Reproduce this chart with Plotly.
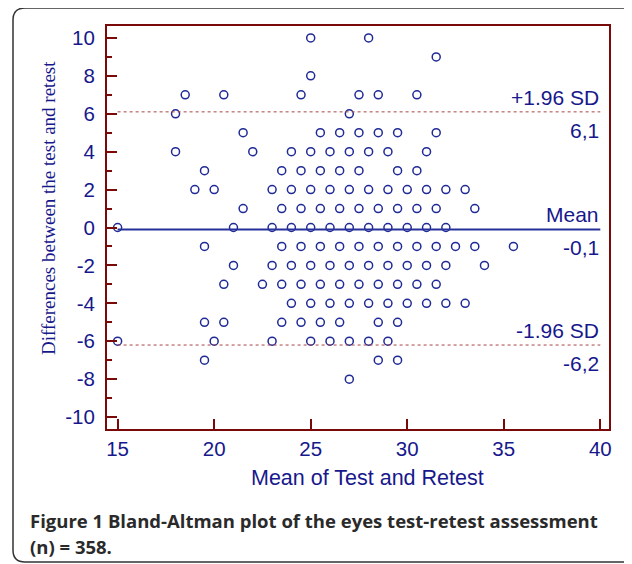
import plotly.graph_objects as go

# ---------------- data ----------------
rows = {
    10: [25, 28],
    9: [31.5],
    8: [25],
    7: [18.5, 20.5, 24.5, 27.5, 28.5, 30.5],
    6: [18, 27],
    5: [21.5, 25.5, 26.5, 27.5, 28.5, 29.5, 31.5],
    4: [18, 22, 24, 25, 26, 27, 28, 29, 31],
    3: [19.5, 23.5, 24.5, 25.5, 26.5, 27.5, 29.5, 30.5],
    2: [19, 20, 23, 24, 25, 26, 27, 28, 29, 30, 31, 32, 33],
    1: [21.5, 23.5, 24.5, 25.5, 26.5, 27.5, 28.5, 29.5, 30.5, 31.5, 33.5],
    0: [15, 21, 23, 24, 25, 26, 27, 28, 29, 30, 31, 32],
    -1: [19.5, 23.5, 24.5, 25.5, 26.5, 27.5, 28.5, 29.5, 30.5, 31.5, 32.5, 33.5, 35.5],
    -2: [21, 23, 24, 25, 26, 27, 28, 29, 30, 31, 32, 34],
    -3: [20.5, 22.5, 23.5, 24.5, 25.5, 26.5, 27.5, 28.5, 29.5, 30.5, 31.5],
    -4: [24, 25, 26, 27, 28, 29, 30, 31, 32, 33],
    -5: [19.5, 20.5, 23.5, 24.5, 25.5, 26.5, 28.5, 29.5],
    -6: [15, 20, 23, 25, 26, 27, 28, 29],
    -7: [19.5, 28.5, 29.5],
    -8: [27],
}
mean_x = [x for y, xs in rows.items() for x in xs]
diff_y = [y for y, xs in rows.items() for _ in xs]

mean_diff = -0.1
upper_loa = 6.1
lower_loa = -6.2
line_x = [15, 40]

x_ticks = [15, 20, 25, 30, 35, 40]
y_ticks = list(range(-10, 11, 2))
y_ticktext = [str(v) for v in y_ticks]  # plain hyphen minus

x_title = "Mean of Test and Retest"
y_title = "Differences between the test and retest"
caption1 = "<b>Figure 1 Bland-Altman plot of the eyes test-retest assessment</b>"
caption2 = "<b>(n) = 358.</b>"

# ---------------- style ----------------
OFF = 8  # page body margin
W, H = 632 - OFF, 564 - OFF
L, T = 107 - OFF, 26 - OFF
R = W - (609 - OFF)
B = H - (429 - OFF)
PW, PH = W - L - R, H - T - B
navy = "#17188c"
mark = "#1f2a96"
maroon = "#7a0a0a"
dotc = "#a84444"
sans = "Liberation Sans"


def px(xr):
    return (xr - OFF - L) / PW


def py(yr):
    return (H - B - (yr - OFF)) / PH


fig = go.Figure()
fig.add_trace(go.Scatter(x=mean_x, y=diff_y, mode="markers",
                         marker=dict(symbol="circle-open", size=8, color=mark,
                                     line=dict(width=1.5, color=mark)),
                         showlegend=False, hoverinfo="x+y"))
fig.add_trace(go.Scatter(x=line_x, y=[mean_diff, mean_diff], mode="lines",
                         line=dict(color="#26309a", width=2), showlegend=False))
for v in (upper_loa, lower_loa):
    fig.add_trace(go.Scatter(x=line_x, y=[v, v], mode="lines",
                             line=dict(color=dotc, width=1, dash="dot"), showlegend=False))

fnt = dict(family=sans, size=21, color=navy)
labels = [
    ("+1.96 SD", upper_loa, "bottom", 2),
    ("6,1", upper_loa, "top", -6),
    ("Mean", mean_diff, "bottom", 2),
    ("-0,1", mean_diff, "top", -6),
    ("-1.96 SD", lower_loa, "bottom", 2),
    ("-6,2", lower_loa, "top", -6),
]
for txt, yv, anc, ys in labels:
    fig.add_annotation(x=40, y=yv, xref="x", yref="y", text=txt, showarrow=False,
                       xanchor="right", yanchor=anc, yshift=ys, font=fnt,
                       borderpad=0)

fig.add_annotation(x=px(367), y=py(478), xref="paper", yref="paper", text=x_title,
                   showarrow=False, xanchor="center", yanchor="middle",
                   font=dict(family=sans, size=21.5, color=navy))
fig.add_annotation(x=px(48), y=py(208), xref="paper", yref="paper", text=y_title,
                   showarrow=False, textangle=-90, xanchor="center", yanchor="middle",
                   font=dict(family="Liberation Serif", size=19, color=navy))
capfont = dict(family="Open Sans", size=18.5, color="#2a2a2a")
fig.add_annotation(x=px(28), y=py(520), xref="paper", yref="paper", text=caption1,
                   showarrow=False, xanchor="left", yanchor="middle", font=capfont)
fig.add_annotation(x=px(28), y=py(546), xref="paper", yref="paper", text=caption2,
                   showarrow=False, xanchor="left", yanchor="middle", font=capfont)

# rounded frame
x0, x1, y0, y1, r = 13, 660, 8, 562, 12
pts = (f"M {px(x0)},{py(y0 + r)} Q {px(x0)},{py(y0)} {px(x0 + r)},{py(y0)} "
       f"L {px(x1 - r)},{py(y0)} Q {px(x1)},{py(y0)} {px(x1)},{py(y0 + r)} "
       f"L {px(x1)},{py(y1 - r)} Q {px(x1)},{py(y1)} {px(x1 - r)},{py(y1)} "
       f"L {px(x0 + r)},{py(y1)} Q {px(x0)},{py(y1)} {px(x0)},{py(y1 - r)} Z")
fig.add_shape(type="path", path=pts, xref="paper", yref="paper",
              line=dict(color="#333333", width=1.5), layer="below")

fig.update_xaxes(range=[14.45, 40.45], tickvals=x_ticks, ticks="inside", ticklen=10,
                 tickwidth=2, tickcolor=maroon, showline=True, linecolor=maroon,
                 linewidth=2, mirror=True, showgrid=False, zeroline=False,
                 tickfont=dict(family=sans, size=20.5, color=navy))
fig.update_yaxes(range=[-10.63, 10.63], tickvals=y_ticks, ticktext=y_ticktext,
                 ticks="inside", ticklen=10,
                 tickwidth=2, tickcolor=maroon, showline=True, linecolor=maroon,
                 linewidth=2, mirror=True, showgrid=False, zeroline=False,
                 ticklabelstandoff=6,
                 tickfont=dict(family=sans, size=20.5, color=navy),
                 minor=dict(ticks="inside", ticklen=5, tickwidth=2, tickcolor=maroon,
                            tickvals=list(range(-9, 10, 2)), showgrid=False))
fig.update_layout(width=W, height=H, margin=dict(l=L, r=R, t=T, b=B, autoexpand=False),
                  plot_bgcolor="white", paper_bgcolor="white")
fig.write_html("out.html")
